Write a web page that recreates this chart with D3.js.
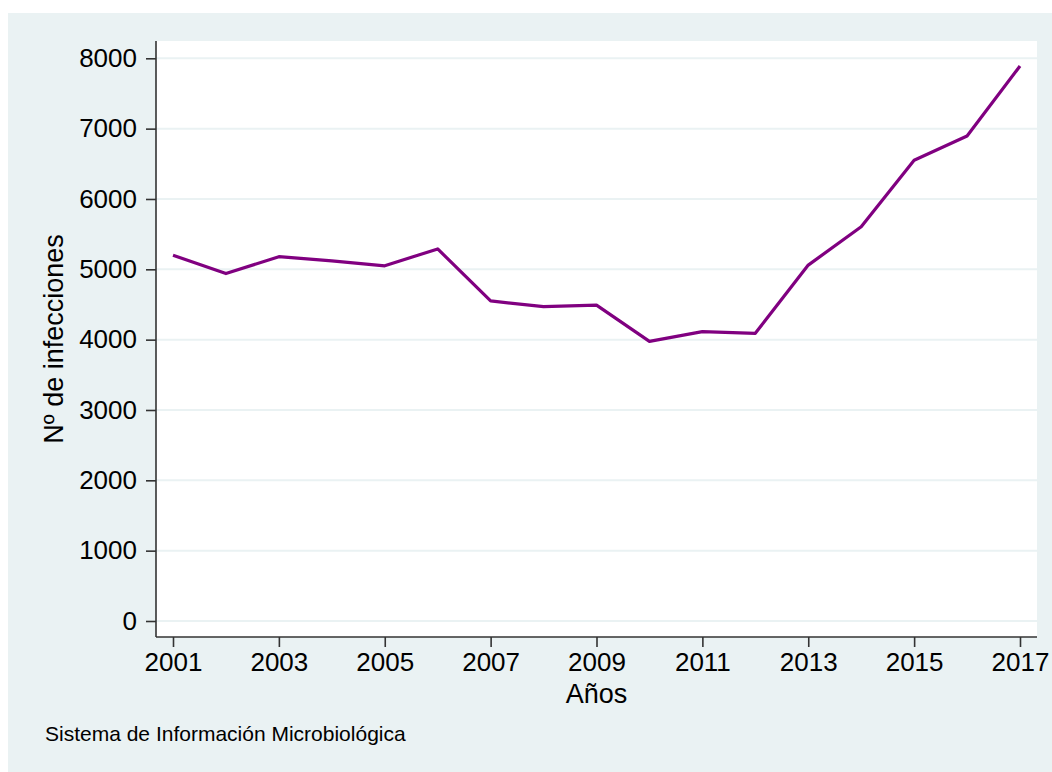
<!DOCTYPE html>
<meta charset="utf-8">
<style>

html, body {
  margin: 0;
  padding: 0;
  background: #fff;
}

svg {
  display: block;
  font-family: "Liberation Sans", Arial, sans-serif;
}

.grid line {
  stroke: #eaf2f3;
  stroke-width: 2px;
}

.axis path, .axis line {
  stroke: #333;
  stroke-width: 1.6px;
}

.axis text {
  font-size: 26px;
  fill: #000;
}

</style>
<svg class="chart"></svg>
<script src="https://d3js.org/d3.v7.min.js"></script>
<script>

var width = 1052;
var height = 772;

var years = [2001, 2002, 2003, 2004, 2005, 2006, 2007, 2008, 2009,
  2010, 2011, 2012, 2013, 2014, 2015, 2016, 2017];
var infections = [5200, 4940, 5180, 5120, 5050, 5290, 4550, 4470, 4490,
  3975, 4115, 4090, 5060, 5605, 6550, 6895, 7890];

var yTicks = [0, 1000, 2000, 3000, 4000, 5000, 6000, 7000, 8000];
var xTicks = [2001, 2003, 2005, 2007, 2009, 2011, 2013, 2015, 2017];

var yTitle = 'Nº de infecciones';
var xTitle = 'Años';
var note = 'Sistema de Información Microbiológica';

var plot = {left: 156, right: 1037, top: 41, bottom: 637};

var svg = d3.select('svg.chart')
  .attr('width', width)
  .attr('height', height);

// outer graph region
svg.append('rect')
  .attr('x', 8)
  .attr('y', 13)
  .attr('width', width - 8)
  .attr('height', height - 13)
  .attr('fill', '#eaf2f3');

svg.append('rect')
  .attr('x', plot.left)
  .attr('y', plot.top)
  .attr('width', plot.right - plot.left)
  .attr('height', plot.bottom - plot.top)
  .attr('fill', '#fff');

var x = d3.scaleLinear()
  .domain([2001, 2017])
  .range([173, 1020]);

var y = d3.scaleLinear()
  .domain([0, 8000])
  .range([621, 58.3]);

svg.append('g')
  .attr('class', 'grid')
  .selectAll('line')
  .data(yTicks)
  .enter().append('line')
  .attr('x1', plot.left)
  .attr('x2', plot.right)
  .attr('y1', function (d) { return y(d); })
  .attr('y2', function (d) { return y(d); });

var yAxis = svg.append('g')
  .attr('class', 'axis')
  .attr('transform', 'translate(' + plot.left + ',0)')
  .call(d3.axisLeft(y).tickValues(yTicks).tickSize(10).tickPadding(9).tickSizeOuter(0).tickFormat(d3.format('d')));

yAxis.select('.domain')
  .attr('d', 'M0,' + plot.top + 'V' + plot.bottom);

var xAxis = svg.append('g')
  .attr('class', 'axis')
  .attr('transform', 'translate(0,' + plot.bottom + ')')
  .call(d3.axisBottom(x).tickValues(xTicks).tickSize(10).tickPadding(6).tickSizeOuter(0).tickFormat(d3.format('d')));

xAxis.select('.domain')
  .attr('d', 'M' + plot.left + ',0H' + plot.right);

var line = d3.line()
  .x(function (d, i) { return x(years[i]); })
  .y(function (d) { return y(d); });

svg.append('path')
  .datum(infections)
  .attr('d', line)
  .attr('fill', 'none')
  .attr('stroke', '#800080')
  .attr('stroke-width', 3.2)
  .attr('stroke-linejoin', 'round');

svg.append('text')
  .attr('transform', 'translate(63,' + (plot.top + plot.bottom) / 2 + ') rotate(-90)')
  .attr('text-anchor', 'middle')
  .attr('font-size', 27)
  .text(yTitle);

svg.append('text')
  .attr('x', (plot.left + plot.right) / 2)
  .attr('y', 703)
  .attr('text-anchor', 'middle')
  .attr('font-size', 27)
  .text(xTitle);

svg.append('text')
  .attr('x', 45)
  .attr('y', 741)
  .attr('font-size', 21)
  .text(note);

</script>
